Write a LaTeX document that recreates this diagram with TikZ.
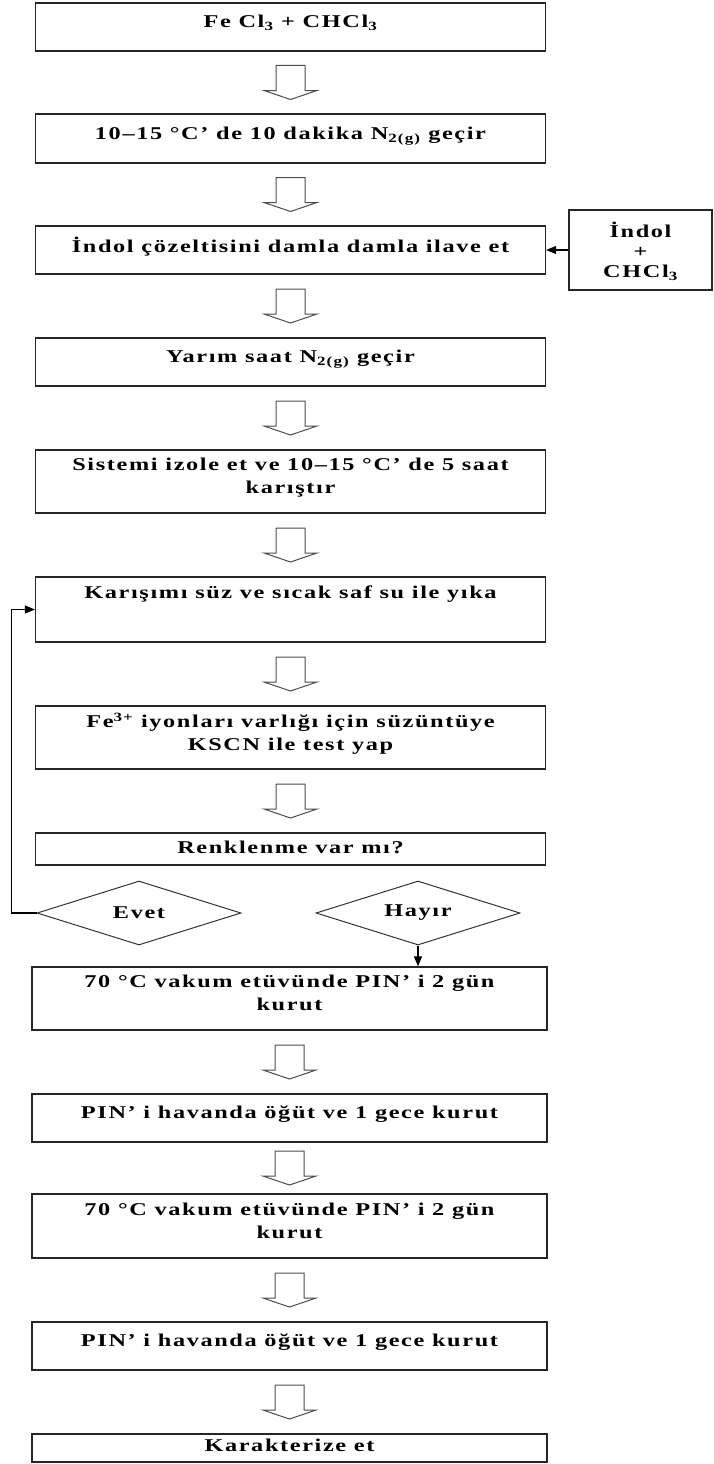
\documentclass[tikz,border=0pt]{standalone}
\usepackage{fontspec}
\newfontfamily\flowfont{Liberation Serif}[LetterSpace=9, FakeStretch=1.35]
\usepackage{tikz}
\usetikzlibrary{calc}
\usetikzlibrary{shapes.geometric}
\usetikzlibrary{arrows.meta}
\tikzset{
  stepbox/.style={%
    rectangle, draw=black!85, line width=1.3pt, minimum width=510pt,
    minimum height=48pt, align=center, inner sep=2pt, text depth=11pt,
    font=\flowfont\bfseries\fontsize{18}{23}\selectfont
  },
  decision/.style={%
    diamond, draw=black!80, line width=1pt, minimum width=204pt,
    minimum height=64pt, aspect=3.2, inner sep=0pt,
    font=\flowfont\bfseries\fontsize{18}{23}\selectfont
  },
  holarrow/.pic={%
    \draw[line width=1pt, draw=black!70] (-14.5,-17) -- (14.5,-17) -- (14.5,8) -- (26.5,8) -- (0,17) -- (-26.5,8) -- (-14.5,8) -- cycle;
  },
  flow/.style={line width=1.2pt, -{Triangle[length=10pt,width=8pt]}}
}

\begin{document}
\begin{tikzpicture}[x=1pt,y=-1pt]
        \useasboundingbox (0,0) rectangle (713,1464);
        \node[stepbox] (b1) at (290.5,27) {Fe Cl\textsubscript{3} + CHCl\textsubscript{3}};
        \node[stepbox, minimum height=49pt] (b2) at (290.5,138.5) {10–15 °C’ de 10 dakika N\textsubscript{2(g)} geçir};
        \node[stepbox] (b3) at (290.5,250) {İndol çözeltisini damla damla ilave et};
        \node[stepbox, minimum width=143pt, minimum height=80pt, text depth=0pt] (indol) at (640.5,250) {İndol\\[-3pt]+\\[-3pt]CHCl\textsubscript{3}};
        \node[stepbox] (b4) at (290.5,362) {Yarım saat N\textsubscript{2(g)} geçir};
        \node[stepbox, minimum height=63pt] (b5) at (290.5,481.5) {Sistemi izole et ve 10–15 °C’ de 5 saat\\karıştır};
        \node[stepbox, minimum height=65pt] (b6) at (290.5,609.5) {Karışımı süz ve sıcak saf su ile yıka\\\mbox{}};
        \node[stepbox, minimum height=63pt] (b7) at (290.5,737.5) {Fe\textsuperscript{3+} iyonları varlığı için süzüntüye\\KSCN ile test yap};
        \node[stepbox, minimum height=32pt, text depth=4pt] (b8) at (290.5,849) {Renklenme var mı?};
        \node[decision] (evet) at (139,913) {Evet};
        \node[decision] (hayir) at (418,913) {Hayır};
        \node[stepbox, minimum width=515pt, minimum height=63pt] (b9) at (289.5,998.5) {70 °C vakum etüvünde PIN’ i 2 gün\\kurut};
        \node[stepbox, minimum width=515pt] (b10) at (289.5,1118) {PIN’ i havanda öğüt ve 1 gece kurut};
        \node[stepbox, minimum width=515pt, minimum height=64pt] (b11) at (289.5,1226) {70 °C vakum etüvünde PIN’ i 2 gün\\kurut};
        \node[stepbox, minimum width=515pt] (b12) at (289.5,1346) {PIN’ i havanda öğüt ve 1 gece kurut};
        \node[stepbox, minimum width=515pt, minimum height=28pt, text depth=6pt] (b13) at (289.5,1448) {Karakterize et};
        \foreach \a/\b in {b1/b2,b2/b3,b3/b4,b4/b5,b5/b6,b6/b7,b7/b8,b9/b10,b10/b11,b11/b12,b12/b13}
        {
          \path ($(\a.south)!0.5!(\b.north)$) pic {holarrow};
        }
        \draw[flow] (indol.west) -- (b3.east);
        \draw[flow] (evet.west) -- ++(-25,0) |- (b6.west);
        \draw[flow] (hayir.south) -- (b9.north -| hayir.south);
      \end{tikzpicture}
\end{document}
